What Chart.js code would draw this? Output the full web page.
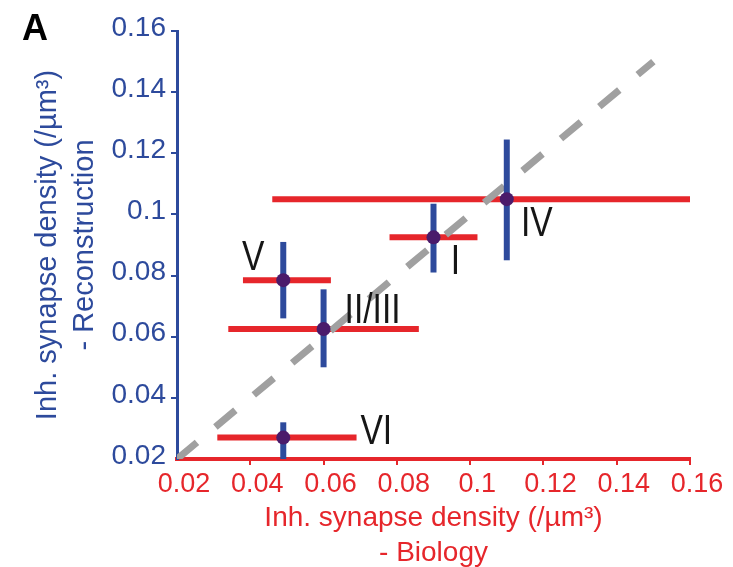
<!DOCTYPE html>
<html>
<head>
<meta charset="utf-8">
<script src="https://cdn.jsdelivr.net/npm/chart.js@4.4.1/dist/chart.umd.min.js"></script>
<style>
  html, body { margin: 0; padding: 0; background: #fff; }
</style>
</head>
<body>
<canvas id="chart" width="733" height="567"></canvas>
<script>
// cortical layers (point labels)
const layers = ['I', 'II/III', 'IV', 'V', 'VI'];

// biology density (x): mean and range
const bioMean = [0.090, 0.060, 0.110, 0.049, 0.049];
const bioLow  = [0.078, 0.034, 0.046, 0.038, 0.031];
const bioHigh = [0.102, 0.086, 0.160, 0.062, 0.069];

// reconstruction density (y): mean and range
const recMean = [0.0925, 0.0625, 0.105, 0.0785, 0.027];
const recLow  = [0.081, 0.050, 0.085, 0.066, 0.020];
const recHigh = [0.1035, 0.0755, 0.1245, 0.091, 0.032];

// identity line (dashed), both ends on y = x
const identity = [0.02, 0.15];

// axis ticks
const tickValues = [0.02, 0.04, 0.06, 0.08, 0.1, 0.12, 0.14, 0.16];

const BLUE = '#2d4a9c';
const RED = '#e6262b';
const DOT = '#4a1b6b';
const GREY = '#a0a0a0';
const FONT = '"Liberation Sans", Arial, sans-serif';

// label offsets from each point, in pixels (style only)
const labelOffsets = [[22, 22], [49, -21], [30, 22], [-30, -25], [93, -9]];

const fmt = v => String(parseFloat(Number(v).toFixed(2)));
const hideFirst = c => (c.tick && Math.abs(c.tick.value - 0.02) < 1e-9) ? 'rgba(0,0,0,0)' : null;

// --- DATASETS ---
const datasets = [];

datasets.push({
    type: 'scatter',
    data: layers.map((_, i) => ({ x: bioMean[i], y: recMean[i] })),
    pointRadius: 7,
    pointBackgroundColor: DOT,
    pointBorderWidth: 0,
    order: 0
});

layers.forEach((_, i) => {
    datasets.push({
        type: 'line',
        data: [{ x: bioMean[i], y: recLow[i] }, { x: bioMean[i], y: recHigh[i] }],
        borderColor: BLUE,
        borderWidth: 6,
        pointRadius: 0,
        order: 1
    });
});

datasets.push({
    type: 'line',
    data: identity.map(v => ({ x: v, y: v })),
    borderColor: GREY,
    borderWidth: 7,
    borderDash: [26, 24],
    pointRadius: 0,
    order: 2
});

layers.forEach((_, i) => {
    datasets.push({
        type: 'line',
        data: [{ x: bioLow[i], y: recMean[i] }, { x: bioHigh[i], y: recMean[i] }],
        borderColor: RED,
        borderWidth: 6,
        pointRadius: 0,
        order: 3
    });
});

// --- LABELS PLUGIN ---
const layerLabels = {
    id: 'layerLabels',
    afterDatasetsDraw(chart) {
        const { ctx, scales: { x, y } } = chart;
        ctx.save();
        ctx.fillStyle = '#161616';
        ctx.font = '42px ' + FONT;
        ctx.textAlign = 'center';
        ctx.textBaseline = 'alphabetic';
        layers.forEach((name, i) => {
            const px = x.getPixelForValue(bioMean[i]) + labelOffsets[i][0];
            const py = y.getPixelForValue(recMean[i]) + labelOffsets[i][1];
            ctx.save();
            ctx.translate(px, py + 15);
            ctx.scale(0.8, 1);
            ctx.fillText(name, 0, 0);
            ctx.restore();
        });
        ctx.fillStyle = '#000';
        ctx.font = 'bold 36px ' + FONT;
        ctx.fillText('A', 35, 40);
        ctx.restore();
    }
};

new Chart(document.getElementById('chart'), {
    type: 'scatter',
    data: { datasets },
    plugins: [layerLabels],
    options: {
        responsive: false,
        animation: false,
        layout: { padding: { top: 31, right: 43, left: 0, bottom: 0 } },
        plugins: { legend: { display: false }, tooltip: { enabled: false } },
        scales: {
            x: {
                type: 'linear',
                position: 'bottom',
                min: 0.02,
                max: 0.16,
                afterBuildTicks: s => { s.ticks = tickValues.map(v => ({ value: v })); },
                afterFit: s => { s.height = 108; },
                border: { color: RED, width: 4 },
                grid: {
                    drawOnChartArea: false, drawTicks: true, tickLength: 6, lineWidth: 2,
                    color: c => hideFirst(c) || RED
                },
                ticks: {
                    color: RED, padding: 3, maxRotation: 0, autoSkip: false, labelOffset: 7,
                    font: { family: FONT, size: 27 },
                    callback: v => fmt(v)
                },
                title: {
                    display: true,
                    text: ['Inh. synapse density (/µm³)', '- Biology'],
                    color: RED,
                    font: { family: FONT, size: 28, lineHeight: 1.22 },
                    padding: { top: 0, bottom: -3 }
                }
            },
            y: {
                type: 'linear',
                position: 'left',
                min: 0.02,
                max: 0.16,
                afterBuildTicks: s => { s.ticks = tickValues.map(v => ({ value: v })); },
                afterFit: s => { s.width = 177; },
                border: { color: BLUE, width: 3 },
                grid: {
                    drawOnChartArea: false, drawTicks: true, tickLength: 6, lineWidth: 2,
                    color: c => hideFirst(c) || BLUE
                },
                ticks: {
                    color: BLUE, padding: 5, autoSkip: false, labelOffset: -3,
                    font: { family: FONT, size: 28 },
                    callback: v => fmt(v)
                },
                title: {
                    display: true,
                    text: ['Inh. synapse density (/µm³)', '- Reconstruction'],
                    color: BLUE,
                    font: { family: FONT, size: 29, lineHeight: 1.28 },
                    padding: { top: 29.5, bottom: 0 }
                }
            }
        }
    }
});
</script>
</body>
</html>
